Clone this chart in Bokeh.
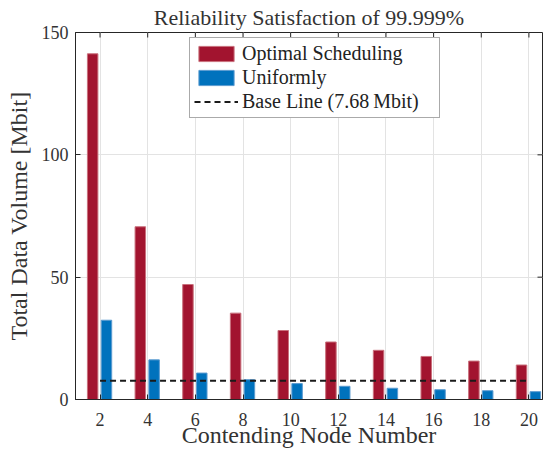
import math
from bokeh.plotting import figure
from bokeh.models import FixedTicker, Legend, LegendItem, ColumnDataSource, Range1d
from bokeh.transform import dodge
from bokeh.embed import file_html
from bokeh.resources import INLINE

# ---- data ----
nodes = [2, 4, 6, 8, 10, 12, 14, 16, 18, 20]
optimal = [141.3, 70.6, 47.0, 35.3, 28.2, 23.5, 20.1, 17.6, 15.7, 14.1]
uniform = [32.4, 16.2, 10.8, 8.1, 6.5, 5.4, 4.6, 4.0, 3.6, 3.2]
base_line = 7.68
y_ticks = [0, 50, 100, 150]
title_text = "Reliability Satisfaction of 99.999%"
x_label = "Contending Node Number"
y_label = "Total Data Volume [Mbit]"
labels = ["Optimal Scheduling", "Uniformly", "Base Line (7.68\u2009Mbit)"]

X_START, X_END = 0.97, 20.57
FONT = "Liberation Serif"
AX = "#262626"
TXT = "#333333"
RED = "#A2142F"
BLUE = "#0072BD"

src = ColumnDataSource(dict(n=nodes, opt=optimal, uni=uniform))
base_src = ColumnDataSource(dict(x=[nodes[0], nodes[-1]], y=[base_line, base_line]))

p = figure(frame_width=467, frame_height=367,
           x_range=Range1d(X_START, X_END), y_range=Range1d(y_ticks[0], y_ticks[-1]),
           output_backend="svg", toolbar_location=None,
           min_border_left=75, min_border_right=1, min_border_top=30, min_border_bottom=54)
p.outline_line_color = AX
p.outline_line_width = 1
p.background_fill_color = "white"
p.border_fill_color = "white"

# title
p.title.text = title_text
p.title.align = "center"
p.title.text_font = FONT
p.title.text_font_size = "22px"
p.title.text_font_style = "normal"
p.title.text_color = TXT
p.title.offset = 10
p.title.standoff = 5

# grid
p.xgrid.ticker = FixedTicker(ticks=nodes)
p.ygrid.ticker = FixedTicker(ticks=y_ticks)
for g in (p.xgrid[0], p.ygrid[0]):
    g.grid_line_color = "#e3e3e3"
    g.grid_line_width = 1

r_opt = p.vbar(x=dodge("n", -0.31, range=p.x_range), top="opt", width=0.44, source=src,
               fill_color=RED, line_color="#c9707c", line_width=1)
r_uni = p.vbar(x=dodge("n", 0.27, range=p.x_range), top="uni", width=0.44, source=src,
               fill_color=BLUE, line_color="#5b9bd0", line_width=1)
r_base = p.line("x", "y", source=base_src, line_color="#1a1a1a", line_width=2, line_dash="6 4")

# inward ticks on the top and right frame edges
p.ray(x=nodes, y=[y_ticks[-1]] * len(nodes), length=5, length_units="screen",
      angle=-math.pi / 2, line_color=AX, line_width=1)
p.ray(x=[X_END] * len(y_ticks), y=y_ticks, length=5, length_units="screen",
      angle=math.pi, line_color=AX, line_width=1)

xa = p.xaxis[0]
ya = p.yaxis[0]
xa.ticker = FixedTicker(ticks=nodes)
ya.ticker = FixedTicker(ticks=y_ticks)
for ax in (xa, ya):
    ax.major_tick_in = 5
    ax.major_tick_out = 0
    ax.minor_tick_in = 0
    ax.minor_tick_out = 0
    ax.major_tick_line_color = AX
    ax.axis_line_color = AX
    ax.major_label_text_font = FONT
    ax.major_label_text_color = TXT
    ax.major_label_text_font_size = "18px"
    ax.axis_label_text_font = FONT
    ax.axis_label_text_font_style = "normal"
    ax.axis_label_text_color = TXT
    ax.axis_label_text_font_size = "24px"
xa.axis_label = x_label
ya.axis_label = y_label
xa.major_label_standoff = 13
xa.axis_label_standoff = -7
ya.major_label_standoff = 7
ya.axis_label_standoff = 7

legend = Legend(items=[LegendItem(label=labels[0], renderers=[r_opt]),
                       LegendItem(label=labels[1], renderers=[r_uni]),
                       LegendItem(label=labels[2], renderers=[r_base])],
                location=(114, 281))
legend.label_text_font = FONT
legend.label_text_font_size = "20px"
legend.label_text_color = "#222222"
legend.glyph_width = 44
legend.glyph_height = 19
legend.label_height = 22
legend.label_width = 193
legend.label_standoff = 4
legend.padding = 4
legend.spacing = 1
legend.margin = 0
legend.border_line_color = "#555555"
legend.border_line_width = 1
legend.background_fill_alpha = 1
p.add_layout(legend, "center")

open("out.html", "w").write(file_html(p, INLINE))
